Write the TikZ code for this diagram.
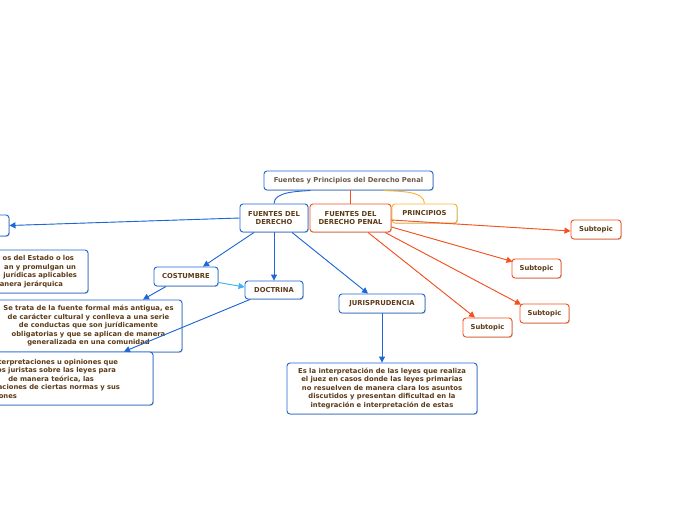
\documentclass[tikz,border=0pt]{standalone}
\usepackage{fontspec}
\setmainfont{DejaVu Sans}
\usetikzlibrary{arrows.meta,shadows,calc}
\definecolor{cblue}{HTML}{1F66D6}
\definecolor{cred}{HTML}{F4511E}
\definecolor{cyel}{HTML}{F7B52C}
\definecolor{clb}{HTML}{3DB2F0}
\definecolor{ctext}{HTML}{5C3B17}
\definecolor{croot}{HTML}{6D5A4A}
\tikzset{
  box/.style={draw, rounded corners=3pt, fill=white, line width=0.9pt,
    font=\fontsize{6.8}{8.5}\selectfont\bfseries, text=ctext, align=center,
    inner sep=2pt,
    drop shadow={shadow xshift=0.8pt, shadow yshift=-0.8pt, fill=black, opacity=0.22}},
  bbox/.style={box, draw=cblue},
  rbox/.style={box, draw=cred},
  arr/.style={-{Triangle[length=6pt,width=6pt]}, line width=0.9pt},
  barr/.style={arr, draw=cblue, fill=cblue},
  rarr/.style={arr, draw=cred, fill=cred},
}
\begin{document}
\begin{tikzpicture}[x=1pt,y=-1pt]
\useasboundingbox[fill=white] (0,0) rectangle (696,520);

% main nodes
\node[bbox, text=croot, minimum width=169pt, minimum height=19pt] (root) at (348.5,180.5) {Fuentes y Principios del Derecho Penal};
\node[bbox, minimum width=68pt, minimum height=28pt] (fd) at (274,218) {FUENTES DEL\\DERECHO};
\node[rbox, minimum width=81pt, minimum height=28pt] (fdp) at (350.5,218) {FUENTES DEL\\DERECHO PENAL};
\node[box, draw=cyel, minimum width=65pt, minimum height=19pt] (prin) at (424.5,213.5) {PRINCIPIOS};

\node[bbox, minimum width=48pt, minimum height=21pt] (lc) at (-15,225.5) {};
\node[bbox, minimum width=168pt, minimum height=43pt, text width=146pt, align=right] (lt) at (4,271.5)
  {os del Estado o los\kern3pt\\an y promulgan un\kern1pt\\jurídicas aplicables\\anera jerárquica\kern14pt};

\node[bbox, minimum width=64pt, minimum height=19pt] (cost) at (186,276.5) {COSTUMBRE};
\node[bbox, minimum width=58pt, minimum height=18pt] (doc) at (274,290) {DOCTRINA};
\node[bbox, minimum width=86pt, minimum height=19pt] (jur) at (382,303.5) {JURISPRUDENCIA};

\node[bbox, minimum width=187pt, minimum height=52pt] (ct) at (88.5,326)
  {Se trata de la fuente formal más antigua, es\\de carácter cultural y conlleva a una serie\\de conductas que son jurídicamente\\obligatorias y que se aplican de manera\\generalizada en una comunidad};
\node[bbox, minimum width=213pt, minimum height=53pt, text width=147pt, align=right] (dt) at (46.5,378.5)
  {interpretaciones u opiniones que\kern2pt\\os juristas sobre las leyes para\kern4pt\\de manera teórica, las\kern26pt\\etaciones de ciertas normas y sus\\ones\kern103pt};
\node[bbox, minimum width=190pt, minimum height=51pt] (jt) at (382,388.5)
  {Es la interpretación de las leyes que realiza\\el juez en casos donde las leyes primarias\\no resuelven de manera clara los asuntos\\discutidos y presentan dificultad en la\\integración e interpretación de estas};

\node[rbox, minimum width=50pt, minimum height=19pt] (s1) at (596,229.5) {Subtopic};
\node[rbox, minimum width=49pt, minimum height=19pt] (s2) at (536.5,268.5) {Subtopic};
\node[rbox, minimum width=49pt, minimum height=19pt] (s3) at (544.5,313.5) {Subtopic};
\node[rbox, minimum width=49pt, minimum height=19pt] (s4) at (487.5,327.5) {Subtopic};

% root links
\draw[cblue, line width=0.9pt] ([xshift=-38pt]root.south) to[out=185,in=90,looseness=0.8] (fd.north);
\draw[cred, line width=0.9pt] ([xshift=2pt]root.south) -- (fdp.north);
\draw[cyel, line width=0.9pt] ([xshift=35pt]root.south) to[out=-5,in=90,looseness=0.8] (prin.north);

% blue arrows
\draw[barr] (fd.west) -- (lc.east);
\draw[barr] ([xshift=-20pt]fd.south) -- ([xshift=17pt]cost.north);
\draw[barr] (fd.south) -- (doc.north);
\draw[barr] ([xshift=18pt]fd.south) -- ([xshift=-14pt]jur.north);
\draw[barr] ([xshift=-20pt]cost.south) -- ([xshift=54.5pt]ct.north);
\draw[arr, draw=clb, fill=clb] ([yshift=-6pt]cost.east) -- ([yshift=3pt]doc.west);
\draw[barr] ([xshift=-24pt]doc.south) -- ([xshift=77.5pt]dt.north);
\draw[barr] (jur.south) -- (jt.north);

% red arrows
\draw[rarr] ([yshift=-2pt]fdp.east) -- ([yshift=-1.5pt]s1.west);
\draw[rarr] ([yshift=-9pt]fdp.east) -- ([xshift=1pt,yshift=-3pt]s2.north west);
\draw[rarr] ([xshift=34.5pt]fdp.south) -- ([xshift=1.5pt,yshift=-1pt]s3.north west);
\draw[rarr] ([xshift=17.5pt]fdp.south) -- ([xshift=-12.5pt]s4.north);
\end{tikzpicture}
\end{document}
